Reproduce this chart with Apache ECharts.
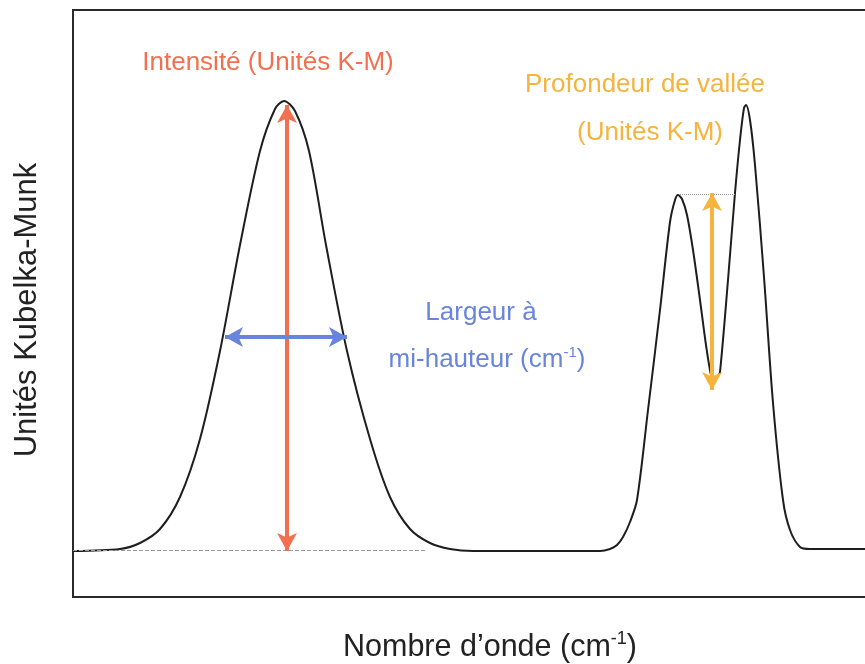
<!DOCTYPE html>
<html>
<head>
<meta charset="utf-8">
<script src="https://cdn.jsdelivr.net/npm/echarts@6/dist/echarts.min.js"></script>
<style>
  html, body { margin: 0; padding: 0; background: #fff; }
  #spectre { width: 865px; height: 664px; }
</style>
</head>
<body>
<div id="spectre"></div>
<script>
// courbe (unités arbitraires)
var spectreX = [0, 47, 67, 87, 107, 127, 147, 167, 187, 202, 211, 222, 236, 253, 274, 297, 317, 337, 357, 377, 400,
  527, 537, 544, 550, 557, 564, 575, 587, 597, 602, 605, 609, 614, 620, 627, 633, 638, 641, 645, 647, 655, 662, 667, 671, 673, 677, 682, 691, 700, 710, 717, 727, 737, 802];
var spectreY = [46, 48, 54, 68, 100, 158, 246, 352, 446, 488, 496, 486, 446, 352, 246, 158, 100, 68, 54, 48, 46,
  46, 48, 52, 60, 75, 97, 187, 287, 375, 397, 402, 398, 382, 347, 297, 252, 222, 217, 221, 225, 317, 404, 457, 489, 492, 477, 432, 320, 194, 97, 67, 50, 48, 48];

var ligneBaseX = [0, 354];
var ligneBaseY = 47;
var ligneValleeX = [607, 662];
var ligneValleeY = 403;

var intensiteX = 214;
var intensiteY = [492, 46];
var largeurX = [152, 274];
var largeurY = 260;
var valleeX = 639;
var valleeY = [404, 207];

var dom = document.getElementById('spectre');
var myChart = echarts.init(dom);

var points = [];
for (var i = 0; i < spectreX.length; i++) {
  points.push([spectreX[i], spectreY[i]]);
}

function fleche(x1, y1, x2, y2, color) {
  return {
    type: 'line',
    data: [],
    silent: true,
    markLine: {
      silent: true,
      symbol: ['arrow', 'arrow'],
      symbolSize: [15, 18],
      label: { show: false },
      lineStyle: { color: color, width: 4, type: 'solid' },
      data: [[{ coord: [x1, y1] }, { coord: [x2, y2] }]]
    }
  };
}

function trait(x1, x2, y, type) {
  return {
    type: 'line',
    data: [],
    silent: true,
    markLine: {
      silent: true,
      symbol: ['none', 'none'],
      label: { show: false },
      lineStyle: { color: '#9a9a9a', width: 1, type: type },
      data: [[{ coord: [x1, y] }, { coord: [x2, y] }]]
    }
  };
}

var police = 'Liberation Sans, Arial, sans-serif';
var rouge = '#f2704f';
var orange = '#f6b33e';
var bleu = '#6884dc';

option = {
  backgroundColor: '#fff',
  animation: false,
  grid: {
    left: 73, top: 10, width: 802, height: 587,
    outerBoundsMode: 'none',
    show: true, borderColor: '#2a2a2a', borderWidth: 2
  },
  xAxis: {
    type: 'value', min: 0, max: 802,
    axisLine: { show: false }, axisTick: { show: false },
    axisLabel: { show: false }, splitLine: { show: false }
  },
  yAxis: {
    type: 'value', min: 0, max: 587,
    axisLine: { show: false }, axisTick: { show: false },
    axisLabel: { show: false }, splitLine: { show: false }
  },
  series: [
    trait(ligneBaseX[0], ligneBaseX[1], ligneBaseY, 'dashed'),
    trait(ligneValleeX[0], ligneValleeX[1], ligneValleeY, 'dotted'),
    {
      name: 'spectre',
      type: 'line',
      data: points,
      smooth: 0.3,
      showSymbol: false,
      lineStyle: { color: '#1e1e1e', width: 2 },
      z: 3
    },
    fleche(intensiteX, intensiteY[0], intensiteX, intensiteY[1], rouge),
    fleche(largeurX[0], largeurY, largeurX[1], largeurY, bleu),
    fleche(valleeX, valleeY[0], valleeX, valleeY[1], orange)
  ],
  graphic: [
    {
      type: 'text', x: 268, y: 63,
      style: { text: 'Intensité (Unités K-M)', font: '26px ' + police, fill: rouge, align: 'center', verticalAlign: 'middle' }
    },
    {
      type: 'text', x: 645, y: 85,
      style: { text: 'Profondeur de vallée', font: '26px ' + police, fill: orange, align: 'center', verticalAlign: 'middle' }
    },
    {
      type: 'text', x: 650, y: 133,
      style: { text: '(Unités K-M)', font: '26px ' + police, fill: orange, align: 'center', verticalAlign: 'middle' }
    },
    {
      type: 'text', x: 481, y: 313,
      style: { text: 'Largeur à', font: '26px ' + police, fill: bleu, align: 'center', verticalAlign: 'middle' }
    },
    {
      type: 'text', x: 487, y: 360,
      style: {
        text: '{n|mi-hauteur (cm}{s|-1}{n|)}',
        align: 'center', verticalAlign: 'middle',
        rich: {
          n: { fontSize: 26, fontFamily: police, fill: bleu, lineHeight: 30 },
          s: { fontSize: 15, fontFamily: police, fill: bleu, lineHeight: 30, verticalAlign: 'top' }
        }
      }
    },
    {
      type: 'text', x: 490, y: 648,
      style: {
        text: '{n|Nombre d\u2019onde (cm}{s|-1}{n|)}',
        align: 'center', verticalAlign: 'middle',
        rich: {
          n: { fontSize: 30.5, fontFamily: police, fill: '#222', lineHeight: 36 },
          s: { fontSize: 18, fontFamily: police, fill: '#222', lineHeight: 36, verticalAlign: 'top' }
        }
      }
    },
    {
      type: 'text', x: 27, y: 310, rotation: Math.PI / 2,
      style: { text: 'Unités Kubelka-Munk', font: '31px ' + police, fill: '#222', align: 'center', verticalAlign: 'middle' }
    }
  ]
};

if (option && typeof option === 'object') {
  myChart.setOption(option, true);
}
</script>
</body>
</html>
